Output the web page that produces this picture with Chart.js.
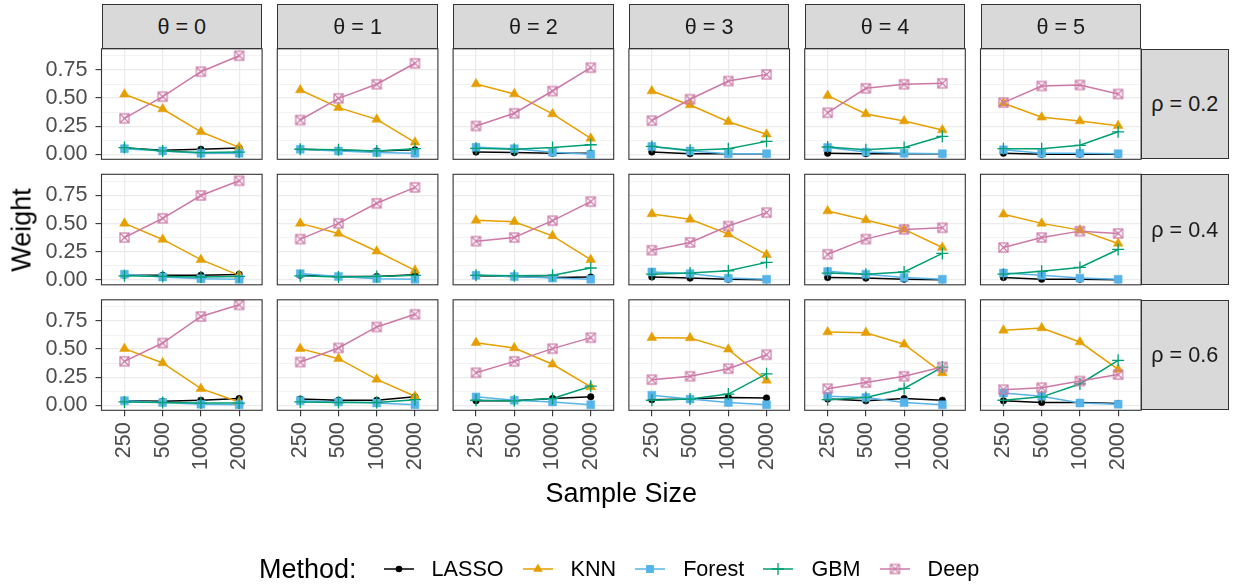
<!DOCTYPE html>
<html>
<head>
<meta charset="utf-8">
<script src="https://cdn.jsdelivr.net/npm/chart.js@4.4.1/dist/chart.umd.min.js"></script>
<style>
  html, body { margin: 0; padding: 0; background: #ffffff; }
  #fig { position: relative; width: 1233px; height: 586px; overflow: hidden;
         font-family: "Liberation Sans", Arial, Helvetica, sans-serif; }
  canvas.panel { position: absolute; left: 0; top: 0; }
  .strip { position: absolute; box-sizing: border-box; background: #D9D9D9;
           border: 1.1px solid #333333; color: #1A1A1A; font-size: 21.6px;
           display: flex; align-items: center; justify-content: center; white-space: nowrap; }
  .title { position: absolute; color: #000000; font-size: 27px; white-space: nowrap;
           transform: translate(-50%, -50%); }
  #legend { position: absolute; left: 259px; top: 554px; height: 30px; display: flex;
            align-items: center; white-space: nowrap; }
  #legend .ltitle { font-size: 27px; color: #000; margin-right: 27px; }
  #legend canvas { display: block; }
  #legend .lab { font-size: 21.6px; color: #000; margin-left: 18px; margin-right: 19px; }
</style>
</head>
<body>
<div id="fig"></div>
<script>
// ---- facet levels and tick labels ----
const SAMPLE_SIZES = ['250', '500', '1000', '2000'];
const THETAS = ['0', '1', '2', '3', '4', '5'];
const RHOS = ['0.2', '0.4', '0.6'];
const METHODS = ['LASSO', 'KNN', 'Forest', 'GBM', 'Deep'];
const Y_MAJOR = [0, 0.25, 0.5, 0.75];
const Y_MINOR = [0.125, 0.375, 0.625, 0.875];

// ---- ensemble weights: [rho][theta] -> weight at each sample size ----
const LASSO = [
  [[0.055, 0.035, 0.045, 0.055], [0.045, 0.035, 0.030, 0.040], [0.020, 0.015, 0.010, 0.010],
   [0.020, 0.005, 0.005, 0.005], [0.010, 0.005, 0.005, 0.005], [0.010, 0.000, 0.000, 0.000]],
  [[0.040, 0.040, 0.040, 0.048], [0.040, 0.030, 0.030, 0.045], [0.035, 0.030, 0.020, 0.025],
   [0.025, 0.015, 0.005, 0.000], [0.020, 0.015, 0.005, 0.000], [0.020, 0.005, 0.005, 0.000]],
  [[0.040, 0.035, 0.045, 0.060], [0.055, 0.045, 0.045, 0.075], [0.040, 0.040, 0.060, 0.075],
   [0.050, 0.055, 0.070, 0.065], [0.055, 0.040, 0.060, 0.045], [0.040, 0.025, 0.025, 0.015]]
];
const KNN = [
  [[0.534, 0.403, 0.200, 0.062], [0.572, 0.415, 0.311, 0.107], [0.626, 0.537, 0.359, 0.142],
   [0.563, 0.439, 0.290, 0.178], [0.522, 0.359, 0.296, 0.216], [0.454, 0.329, 0.296, 0.255]],
  [[0.502, 0.359, 0.179, 0.039], [0.502, 0.412, 0.254, 0.084], [0.529, 0.517, 0.391, 0.179],
   [0.586, 0.538, 0.406, 0.224], [0.612, 0.532, 0.448, 0.287], [0.583, 0.502, 0.442, 0.323]],
  [[0.504, 0.377, 0.148, 0.030], [0.504, 0.415, 0.231, 0.080], [0.557, 0.510, 0.365, 0.163],
   [0.602, 0.599, 0.498, 0.222], [0.652, 0.646, 0.543, 0.288], [0.667, 0.688, 0.563, 0.320]]
];
const Forest = [
  [[0.050, 0.030, 0.010, 0.010], [0.045, 0.030, 0.015, 0.010], [0.062, 0.050, 0.018, 0.000],
   [0.070, 0.030, 0.005, 0.005], [0.060, 0.020, 0.010, 0.005], [0.040, 0.010, 0.010, 0.005]],
  [[0.050, 0.025, 0.010, 0.005], [0.055, 0.030, 0.010, 0.005], [0.040, 0.030, 0.015, 0.005],
   [0.070, 0.055, 0.015, 0.005], [0.075, 0.050, 0.020, 0.005], [0.060, 0.040, 0.015, 0.005]],
  [[0.040, 0.025, 0.010, 0.005], [0.040, 0.030, 0.020, 0.005], [0.075, 0.045, 0.030, 0.005],
   [0.090, 0.055, 0.025, 0.005], [0.080, 0.070, 0.025, 0.005], [0.110, 0.080, 0.020, 0.010]]
];
const GBM = [
  [[0.060, 0.030, 0.015, 0.020], [0.045, 0.040, 0.030, 0.050], [0.053, 0.045, 0.060, 0.085],
   [0.070, 0.035, 0.050, 0.115], [0.065, 0.040, 0.060, 0.160], [0.050, 0.050, 0.080, 0.200]],
  [[0.035, 0.030, 0.025, 0.030], [0.035, 0.025, 0.030, 0.040], [0.040, 0.035, 0.040, 0.105],
   [0.050, 0.060, 0.080, 0.155], [0.060, 0.050, 0.070, 0.235], [0.050, 0.075, 0.110, 0.270]],
  [[0.030, 0.025, 0.020, 0.020], [0.030, 0.025, 0.025, 0.050], [0.045, 0.040, 0.060, 0.170],
   [0.045, 0.055, 0.100, 0.280], [0.050, 0.070, 0.150, 0.340], [0.045, 0.075, 0.190, 0.400]]
];
const Deep = [
  [[0.320, 0.513, 0.735, 0.877], [0.305, 0.498, 0.623, 0.810], [0.252, 0.365, 0.563, 0.771],
   [0.300, 0.490, 0.652, 0.710], [0.370, 0.587, 0.623, 0.631], [0.460, 0.608, 0.617, 0.537]],
  [[0.376, 0.547, 0.750, 0.881], [0.362, 0.502, 0.681, 0.822], [0.344, 0.376, 0.526, 0.696],
   [0.263, 0.332, 0.478, 0.598], [0.227, 0.362, 0.448, 0.463], [0.287, 0.376, 0.433, 0.412]],
  [[0.391, 0.554, 0.790, 0.894], [0.385, 0.510, 0.697, 0.810], [0.290, 0.391, 0.504, 0.602],
   [0.228, 0.258, 0.326, 0.450], [0.148, 0.202, 0.258, 0.341], [0.139, 0.157, 0.216, 0.273]]
];
const SERIES = { LASSO, KNN, Forest, GBM, Deep };

// ---- page geometry ----
const W = 1233, H = 586;
const PANEL_X0 = 101.5, PANEL_DX = 175.8, PANEL_W = 160.6;
const PANEL_Y0 = 48.8, PANEL_DY = 125.5, PANEL_H = 110.5;
const STRIP_TOP = 4, RIGHT_STRIP_W = 88.5;
const Y_AXIS_W = 90, X_AXIS_H = 70;
const Y_MIN = -0.0445, Y_MAX = 0.9386;
const X_MIN = -0.6, X_MAX = 3.6;
const FONT = '"Liberation Sans", Arial, Helvetica, sans-serif';
const TICK_FONT = 21.6;

// open square with a diagonal cross, used as the Deep marker
function boxCross(color, side, lw) {
  const s = Math.ceil(side + lw + 2);
  const c = document.createElement('canvas');
  c.width = s; c.height = s;
  const g = c.getContext('2d');
  const a = (s - side) / 2, b = a + side;
  g.strokeStyle = color; g.lineWidth = lw;
  g.strokeRect(a, a, side, side);
  g.beginPath();
  g.moveTo(a, a); g.lineTo(b, b);
  g.moveTo(b, a); g.lineTo(a, b);
  g.stroke();
  return c;
}

const STYLE = {
  LASSO:  { color: '#000000', style: 'circle',   r: 3.3, bw: 0.5 },
  KNN:    { color: '#E69F00', style: 'triangle', r: 5.6, bw: 0.5 },
  Forest: { color: '#56B4E9', style: 'rect',     r: 5.6, bw: 0.5 },
  GBM:    { color: '#009E73', style: 'cross',    r: 6.0, bw: 1.3 },
  Deep:   { color: '#CC79A7', style: null,       r: 5.0, bw: 1.2 }
};
STYLE.Deep.style = boxCross(STYLE.Deep.color, 9, 1.2);

// panel frame drawn over the data
const panelFrame = {
  id: 'panelFrame',
  afterDatasetsDraw(chart) {
    const a = chart.chartArea, g = chart.ctx;
    g.save();
    g.strokeStyle = '#333333';
    g.lineWidth = 1.1;
    g.strokeRect(a.left, a.top, a.right - a.left, a.bottom - a.top);
    g.restore();
  }
};

const fig = document.getElementById('fig');

function addDiv(cls, text, css) {
  const d = document.createElement('div');
  d.className = cls;
  d.textContent = text;
  Object.assign(d.style, css);
  fig.appendChild(d);
  return d;
}

RHOS.forEach((rho, r) => {
  THETAS.forEach((theta, c) => {
    const left = PANEL_X0 + c * PANEL_DX;
    const top = PANEL_Y0 + r * PANEL_DY;
    const isLeft = c === 0;
    const isBottom = r === RHOS.length - 1;
    const yw = isLeft ? Y_AXIS_W : 0;
    const xh = isBottom ? X_AXIS_H : 0;

    const cv = document.createElement('canvas');
    cv.width = W; cv.height = H;
    cv.className = 'panel';
    fig.appendChild(cv);

    const datasets = [];
    METHODS.forEach((m, k) => {
      const st = STYLE[m];
      const pts = SERIES[m][r][c].map((v, i) => ({ x: i, y: v }));
      datasets.push({
        label: m, data: pts, borderColor: st.color, borderWidth: 1.5,
        pointRadius: 0, pointHoverRadius: 0, fill: false, tension: 0,
        order: 2 * METHODS.length - 1 - k
      });
      datasets.push({
        label: m, data: pts, showLine: false,
        pointStyle: st.style, pointRadius: st.r, pointHoverRadius: st.r,
        pointBackgroundColor: st.color, pointBorderColor: st.color, pointBorderWidth: st.bw,
        order: METHODS.length - 1 - k
      });
    });

    new Chart(cv, {
      type: 'line',
      data: { datasets },
      options: {
        responsive: false, animation: false, devicePixelRatio: 1, events: [],
        layout: {
          autoPadding: false,
          padding: { left: left - yw, top: top, right: W - left - PANEL_W, bottom: H - top - PANEL_H - xh }
        },
        plugins: { legend: { display: false }, tooltip: { enabled: false } },
        scales: {
          x: {
            type: 'linear', min: X_MIN, max: X_MAX,
            afterBuildTicks: s => { s.ticks = SAMPLE_SIZES.map((_, i) => ({ value: i })); },
            afterFit: s => { s.height = xh; },
            border: { display: false },
            grid: { color: '#EBEBEB', lineWidth: 1.2, drawTicks: isBottom, tickLength: 6,
                    tickColor: '#333333', tickWidth: 1.1 },
            ticks: { display: isBottom, autoSkip: false, minRotation: 90, maxRotation: 90,
                     padding: 6, color: '#4D4D4D', font: { family: FONT, size: TICK_FONT },
                     callback: v => SAMPLE_SIZES[v] }
          },
          y: {
            type: 'linear', min: Y_MIN, max: Y_MAX,
            afterBuildTicks: s => {
              s.ticks = Y_MAJOR.concat(Y_MINOR).sort((a, b) => a - b).map(v => ({ value: v }));
            },
            afterFit: s => { s.width = yw; },
            border: { display: false },
            grid: {
              color: '#EBEBEB',
              lineWidth: ctx => (Y_MAJOR.includes(ctx.tick.value) ? 1.2 : 0.6),
              drawTicks: isLeft, tickLength: 6, tickWidth: 1.1,
              tickColor: ctx => (Y_MAJOR.includes(ctx.tick.value) ? '#333333' : 'rgba(0,0,0,0)')
            },
            ticks: { display: isLeft, autoSkip: false, padding: 8, color: '#4D4D4D',
                     font: { family: FONT, size: TICK_FONT },
                     callback: v => (Y_MAJOR.includes(v) ? v.toFixed(2) : '') }
          }
        }
      },
      plugins: [panelFrame]
    });
  });
});

// facet strips
THETAS.forEach((theta, c) => {
  addDiv('strip', '\u03B8 = ' + theta, {
    left: (PANEL_X0 + c * PANEL_DX) + 'px', top: STRIP_TOP + 'px',
    width: PANEL_W + 'px', height: (PANEL_Y0 - STRIP_TOP + 0.6) + 'px'
  });
});
RHOS.forEach((rho, r) => {
  addDiv('strip', '\u03C1 = ' + rho, {
    left: (PANEL_X0 + (THETAS.length - 1) * PANEL_DX + PANEL_W - 0.6) + 'px',
    top: (PANEL_Y0 + r * PANEL_DY) + 'px',
    width: RIGHT_STRIP_W + 'px', height: PANEL_H + 'px'
  });
});

// axis titles
const panelsRight = PANEL_X0 + (THETAS.length - 1) * PANEL_DX + PANEL_W;
const panelsBottom = PANEL_Y0 + (RHOS.length - 1) * PANEL_DY + PANEL_H;
addDiv('title', 'Sample Size', { left: ((PANEL_X0 + panelsRight) / 2) + 'px', top: '493px' });
addDiv('title', 'Weight', {
  left: '22px', top: ((PANEL_Y0 + panelsBottom) / 2) + 'px',
  transform: 'translate(-50%, -50%) rotate(-90deg)'
});

// legend
function keyCanvas(m) {
  const st = STYLE[m];
  const c = document.createElement('canvas');
  c.width = 30; c.height = 24;
  const g = c.getContext('2d');
  const cx = 15, cy = 12;
  g.strokeStyle = st.color; g.fillStyle = st.color; g.lineWidth = 1.5;
  g.beginPath(); g.moveTo(0, cy); g.lineTo(30, cy); g.stroke();
  const r = st.r;
  if (m === 'LASSO') {
    g.beginPath(); g.arc(cx, cy, r, 0, 2 * Math.PI); g.fill();
  } else if (m === 'KNN') {
    g.beginPath();
    for (let i = 0; i < 3; i++) {
      const a = i * 2 * Math.PI / 3;
      const px = cx + Math.sin(a) * r, py = cy - Math.cos(a) * r;
      if (i === 0) g.moveTo(px, py); else g.lineTo(px, py);
    }
    g.closePath(); g.fill();
  } else if (m === 'Forest') {
    const s = Math.SQRT1_2 * r;
    g.fillRect(cx - s, cy - s, 2 * s, 2 * s);
  } else if (m === 'GBM') {
    g.lineWidth = st.bw;
    g.beginPath(); g.moveTo(cx - r, cy); g.lineTo(cx + r, cy);
    g.moveTo(cx, cy - r); g.lineTo(cx, cy + r); g.stroke();
  } else {
    const img = st.style;
    g.drawImage(img, cx - img.width / 2, cy - img.height / 2);
  }
  return c;
}
const legend = document.createElement('div');
legend.id = 'legend';
const lt = document.createElement('span');
lt.className = 'ltitle'; lt.textContent = 'Method:';
legend.appendChild(lt);
METHODS.forEach(m => {
  legend.appendChild(keyCanvas(m));
  const s = document.createElement('span');
  s.className = 'lab'; s.textContent = m;
  legend.appendChild(s);
});
fig.appendChild(legend);
</script>
</body>
</html>
